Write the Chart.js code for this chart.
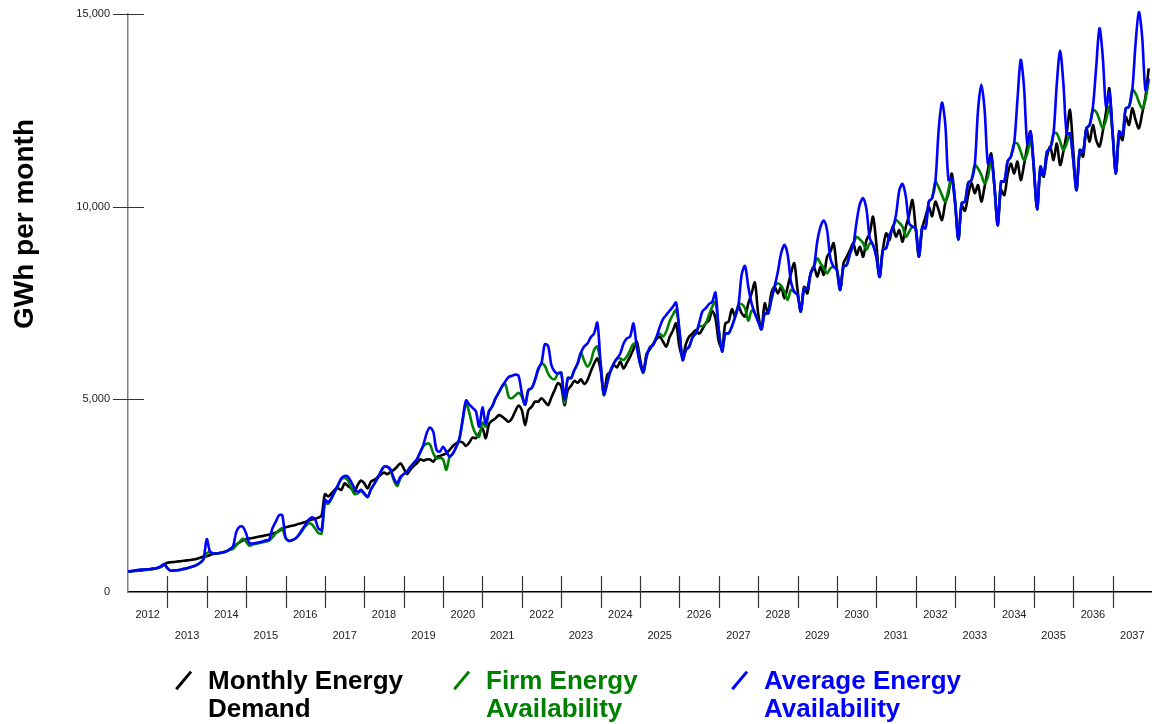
<!DOCTYPE html>
<html>
<head>
<meta charset="utf-8">
<script src="https://cdn.jsdelivr.net/npm/chart.js@4.4.1/dist/chart.umd.min.js"></script>
<style>
html,body{margin:0;padding:0;background:#fff;}
#wrap{position:relative;width:1152px;height:724px;overflow:hidden;}
#c{position:absolute;left:0;top:0;}
#legend{position:absolute;left:0;top:666px;width:1152px;height:58px;font-family:"Liberation Sans",Arial,sans-serif;font-weight:bold;font-size:26px;line-height:28px;}
.item{position:absolute;top:0;}
.sym{position:absolute;left:0;top:13px;width:23px;height:2.6px;transform:rotate(-50deg);}
.txt{position:absolute;left:36px;top:0;white-space:nowrap;}
</style>
</head>
<body>
<div id="wrap">
<canvas id="c" width="1152" height="724"></canvas>
<div id="legend"></div>
</div>
<script>
// ---- data (GWh per month, one value per month, Jan 2012 .. Dec 2037) ----
const years = [2012,2013,2014,2015,2016,2017,2018,2019,2020,2021,2022,2023,2024,2025,2026,2027,2028,2029,2030,2031,2032,2033,2034,2035,2036,2037];

const yTicks = [0, 5000, 10000, 15000];

const seriesNames = [["Monthly Energy","Demand"], ["Firm Energy","Availability"], ["Average Energy","Availability"]];

const demand = [
  525,535,545,555,560,570,580,590,605,620,650,710,
  760,770,780,790,800,810,820,830,845,865,890,920,
  930,960,985,1000,1010,1030,1050,1100,1160,1230,1290,1340,
  1370,1390,1400,1420,1440,1450,1470,1490,1510,1540,1580,1640,
  1680,1700,1720,1740,1770,1790,1820,1850,1880,1900,1930,1990,
  2540,2480,2560,2650,2690,2650,2820,2750,2690,2600,2780,2890,
  2820,2690,2860,2910,2975,3040,3100,3060,3120,3170,3250,3340,
  3210,3060,3170,3270,3340,3440,3410,3440,3440,3380,3500,3530,
  3560,3600,3690,3790,3860,3900,3880,3790,3880,4010,3990,4120,
  4250,3990,4360,4450,4510,4590,4550,4480,4420,4510,4690,4840,
  4720,4330,4720,4810,4940,4940,5030,4940,4850,5050,5240,5420,
  5330,4850,5240,5350,5480,5430,5520,5400,5500,5720,5920,6060,
  5760,5110,5630,5720,5890,5830,5980,5800,5950,6110,6300,6500,
  6060,5690,6180,6300,6440,6560,6630,6500,6370,6610,6780,6970,
  6370,6110,6440,6630,6710,6800,6700,6820,6970,7040,7300,7100,
  6500,6320,6970,7020,7340,7150,7420,7230,7150,7490,7750,8030,
  7230,6820,7490,7230,7750,7920,7750,7920,7620,7920,8270,8530,
  7840,7280,7920,7750,8270,8440,8180,8440,8230,8700,8830,9050,
  8360,7840,8530,8700,8880,9050,8750,8960,8700,9130,9310,9740,
  9050,8180,8880,9310,9130,9480,9220,9390,9090,9480,9780,10170,
  9440,8700,9440,9740,10000,9750,10130,9910,9650,10090,10350,10860,
  10170,9150,10040,9890,10300,10610,10350,10560,10130,10520,10950,11380,
  10520,9520,10430,10300,10820,11120,10860,11170,10690,11080,11560,11950,
  10950,9930,10910,10780,11300,11560,11210,11640,11080,11430,11900,12510,
  11470,10430,11430,11300,12030,11690,12120,11730,11560,11950,12460,13070,
  11900,10860,11900,11730,12330,12120,12550,12250,12030,12420,12850,13590
];

const firm = [
  525,540,555,565,575,580,585,595,605,625,660,720,
  615,553,560,565,580,600,615,640,670,705,760,850,
  1000,1040,1000,1000,1010,1030,1060,1100,1120,1220,1300,1390,
  1300,1200,1230,1250,1270,1290,1310,1330,1420,1520,1600,1650,
  1400,1320,1340,1380,1470,1580,1700,1780,1760,1650,1530,1520,
  2300,2290,2420,2590,2760,2930,2960,2900,2700,2540,2560,2620,
  2540,2460,2660,2800,2950,3120,3250,3250,3150,2900,2750,2950,
  3060,3120,3240,3340,3440,3620,3780,3850,3830,3600,3460,3480,
  3440,3170,3510,3590,3760,3980,4450,4900,4650,4300,4100,4030,
  4400,4290,4690,4820,5030,5180,5340,5390,5060,5030,5100,5170,
  5070,4860,5240,5290,5500,5760,5930,5870,5670,5550,5520,5670,
  5690,4900,5550,5550,5760,5930,6210,6000,5850,5980,6280,6370,
  5930,5110,5420,5740,5930,6060,6060,6020,6110,6280,6440,6370,
  5930,5690,6110,6350,6410,6610,6710,6630,6760,7020,7190,7320,
  6800,6020,6280,6370,6610,6710,6890,6900,6970,7190,7400,7530,
  6800,6240,6710,6710,6890,7150,7450,7470,7360,7040,7300,7230,
  7020,6820,7230,7230,7580,7920,8010,7950,7790,7580,7840,7790,
  7710,7280,7880,7880,8270,8440,8660,8530,8400,8270,8400,8440,
  8360,7840,8440,8490,8790,9010,9220,9150,9050,8880,9050,9010,
  8700,8180,8880,8920,9260,9440,9650,9580,9480,9220,9350,9480,
  9440,8700,9480,9440,10130,10220,10650,10500,10300,10130,10450,10730,
  10090,9150,10090,10130,10620,10690,11080,10990,10820,10610,10780,11210,
  10520,9520,10650,10650,11170,11300,11640,11640,11430,11210,11380,11730,
  11040,9930,11040,10820,11430,11510,11900,11900,11690,11470,11640,11900,
  11210,10430,11470,11430,12030,12120,12510,12460,12250,12030,12250,12590,
  11900,10860,11950,11860,12550,12590,13030,12940,12720,12550,12770,13290
];

const average = [
  530,545,560,570,580,585,590,600,610,630,665,727,
  620,553,560,565,580,600,615,640,670,705,760,850,
  1370,1040,1000,1000,1010,1030,1060,1110,1180,1560,1695,1690,
  1520,1265,1260,1270,1290,1310,1340,1360,1650,1820,1990,1990,
  1420,1330,1350,1390,1480,1610,1740,1870,1940,1890,1650,1610,
  2390,2330,2450,2620,2780,2950,3010,2990,2860,2690,2600,2650,
  2560,2470,2660,2800,2950,3120,3250,3250,3180,2950,2820,2990,
  3060,3120,3240,3340,3440,3620,3820,4120,4270,4160,3690,3640,
  3770,3640,3510,3600,3770,3990,4510,4970,4860,4780,4690,4290,
  4790,4360,4690,4820,5030,5180,5340,5470,5580,5610,5640,5610,
  5160,4860,5240,5290,5500,5800,5950,6430,6390,5890,5720,5670,
  5690,5000,5550,5550,5760,5930,6210,6370,6450,6610,6710,6990,
  5930,5140,5420,5740,5930,6060,6190,6450,6580,6630,6970,6370,
  5930,5720,6110,6350,6410,6610,6870,7080,7190,7300,7400,7510,
  6800,6020,6280,6370,6610,6710,6970,7280,7360,7470,7530,7770,
  6800,6240,6710,6710,6890,7150,7450,8250,8460,7920,7490,7230,
  7020,6820,7230,7230,7580,7920,8310,8790,9010,8750,8050,7790,
  7710,7280,7880,7880,8270,8440,9090,9480,9640,9390,8660,8440,
  8360,7840,8440,8490,8790,9010,9610,10070,10220,9930,9180,9010,
  8700,8180,8880,8920,9260,9440,9780,10420,10590,10260,9570,9480,
  9440,8700,9480,9440,10130,10220,10650,11990,12700,12160,10690,10730,
  10090,9150,10090,10130,10620,10690,11080,12510,13170,12510,11120,11300,
  10520,9520,10650,10650,11170,11300,11640,12770,13810,13110,11640,11950,
  11040,9930,11040,10820,11430,11510,11900,13200,14050,13200,11900,11900,
  11210,10430,11470,11430,12030,12120,12590,13630,14630,13890,12590,12980,
  11900,10860,11950,11860,12550,12590,13030,14240,15050,14410,13030,13330
];

// ---- styles ----
const COLORS = ['#000000', '#008000', '#0000ff'];
const FONT = '"Liberation Sans", Arial, Helvetica, sans-serif';

const toPoints = arr => arr.map((v, i) => ({x: i, y: v}));

// plugin: crossing tick marks on both axes + rotated y-axis title
const axisMarks = {
  id: 'axisMarks',
  beforeDatasetsDraw(chart) {
    const {ctx, chartArea, scales: {x, y}} = chart;
    ctx.save();
    ctx.strokeStyle = '#333';
    ctx.lineWidth = 1.2;
    ctx.beginPath();
    for (let k = 1; k < years.length; k++) {
      const px = Math.round(x.getPixelForValue(k * 12)) + 0.5;
      ctx.moveTo(px, chartArea.bottom - 16);
      ctx.lineTo(px, chartArea.bottom + 16);
    }
    yTicks.forEach(v => {
      if (v === 0) return;
      const py = Math.round(y.getPixelForValue(v)) + 0.5;
      ctx.moveTo(chartArea.left - 15, py);
      ctx.lineTo(chartArea.left + 16, py);
    });
    ctx.stroke();
    ctx.restore();
  },
  afterDraw(chart) {
    const {ctx} = chart;
    ctx.save();
    ctx.translate(33, 224);
    ctx.rotate(-Math.PI / 2);
    ctx.font = 'bold 28px ' + FONT;
    ctx.fillStyle = '#000';
    ctx.textAlign = 'center';
    ctx.textBaseline = 'alphabetic';
    ctx.fillText('GWh per month', 0, 0);
    ctx.restore();
  }
};

const datasets = [demand, firm, average].map((arr, i) => ({
  label: seriesNames[i].join(' '),
  data: toPoints(arr),
  borderColor: COLORS[i],
  backgroundColor: COLORS[i],
  borderWidth: 2.6,
  pointRadius: 0,
  pointHoverRadius: 0,
  tension: 0.3,
  borderJoinStyle: 'round',
  fill: false,
  clip: false,
  order: 3 - i
}));

new Chart(document.getElementById('c'), {
  type: 'line',
  data: {datasets},
  options: {
    responsive: false,
    animation: false,
    layout: {autoPadding: false, padding: {top: 14, left: 0, right: 0, bottom: 0}},
    plugins: {legend: {display: false}, tooltip: {enabled: false}},
    scales: {
      x: {
        type: 'linear',
        min: 0,
        max: years.length * 12,
        grid: {display: true, drawOnChartArea: false, drawTicks: true, tickLength: 12, tickColor: 'rgba(0,0,0,0)'},
        border: {display: true, color: '#000', width: 1.5},
        ticks: {
          stepSize: 6,
          autoSkip: false,
          maxRotation: 0,
          minRotation: 0,
          padding: 0,
          color: '#222',
          font: {family: FONT, size: 11, lineHeight: 1.91},
          callback: (value) => {
            if (value % 12 !== 6) return '';
            const i = (value - 6) / 12;
            const label = String(years[i]);
            return i % 2 === 0 ? [label, ''] : ['', label];
          }
        },
        afterFit: (scale) => { scale.height = 132; scale.paddingLeft = 0; scale.paddingRight = 0; }
      },
      y: {
        min: yTicks[0],
        max: yTicks[yTicks.length - 1],
        grid: {display: true, drawOnChartArea: false, drawTicks: true, tickLength: 18, tickColor: 'rgba(0,0,0,0)'},
        border: {display: true, color: '#808080', width: 1.5},
        afterBuildTicks: (scale) => { scale.ticks = yTicks.map(v => ({value: v})); },
        ticks: {
          padding: 0,
          color: '#222',
          font: {family: FONT, size: 11},
          callback: (v) => Number(v).toLocaleString('en-US')
        },
        afterFit: (scale) => { scale.width = 128; scale.paddingTop = 0; scale.paddingBottom = 0; }
      }
    }
  },
  plugins: [axisMarks]
});

// HTML legend
const legendEl = document.getElementById('legend');
const legendLeft = [172, 450, 728];
seriesNames.forEach((lines, i) => {
  const item = document.createElement('div');
  item.className = 'item';
  item.style.left = legendLeft[i] + 'px';
  const sym = document.createElement('span');
  sym.className = 'sym';
  sym.style.background = COLORS[i];
  const txt = document.createElement('div');
  txt.className = 'txt';
  txt.style.color = COLORS[i];
  txt.innerHTML = lines.join('<br>');
  item.appendChild(sym);
  item.appendChild(txt);
  legendEl.appendChild(item);
});
</script>
</body>
</html>
